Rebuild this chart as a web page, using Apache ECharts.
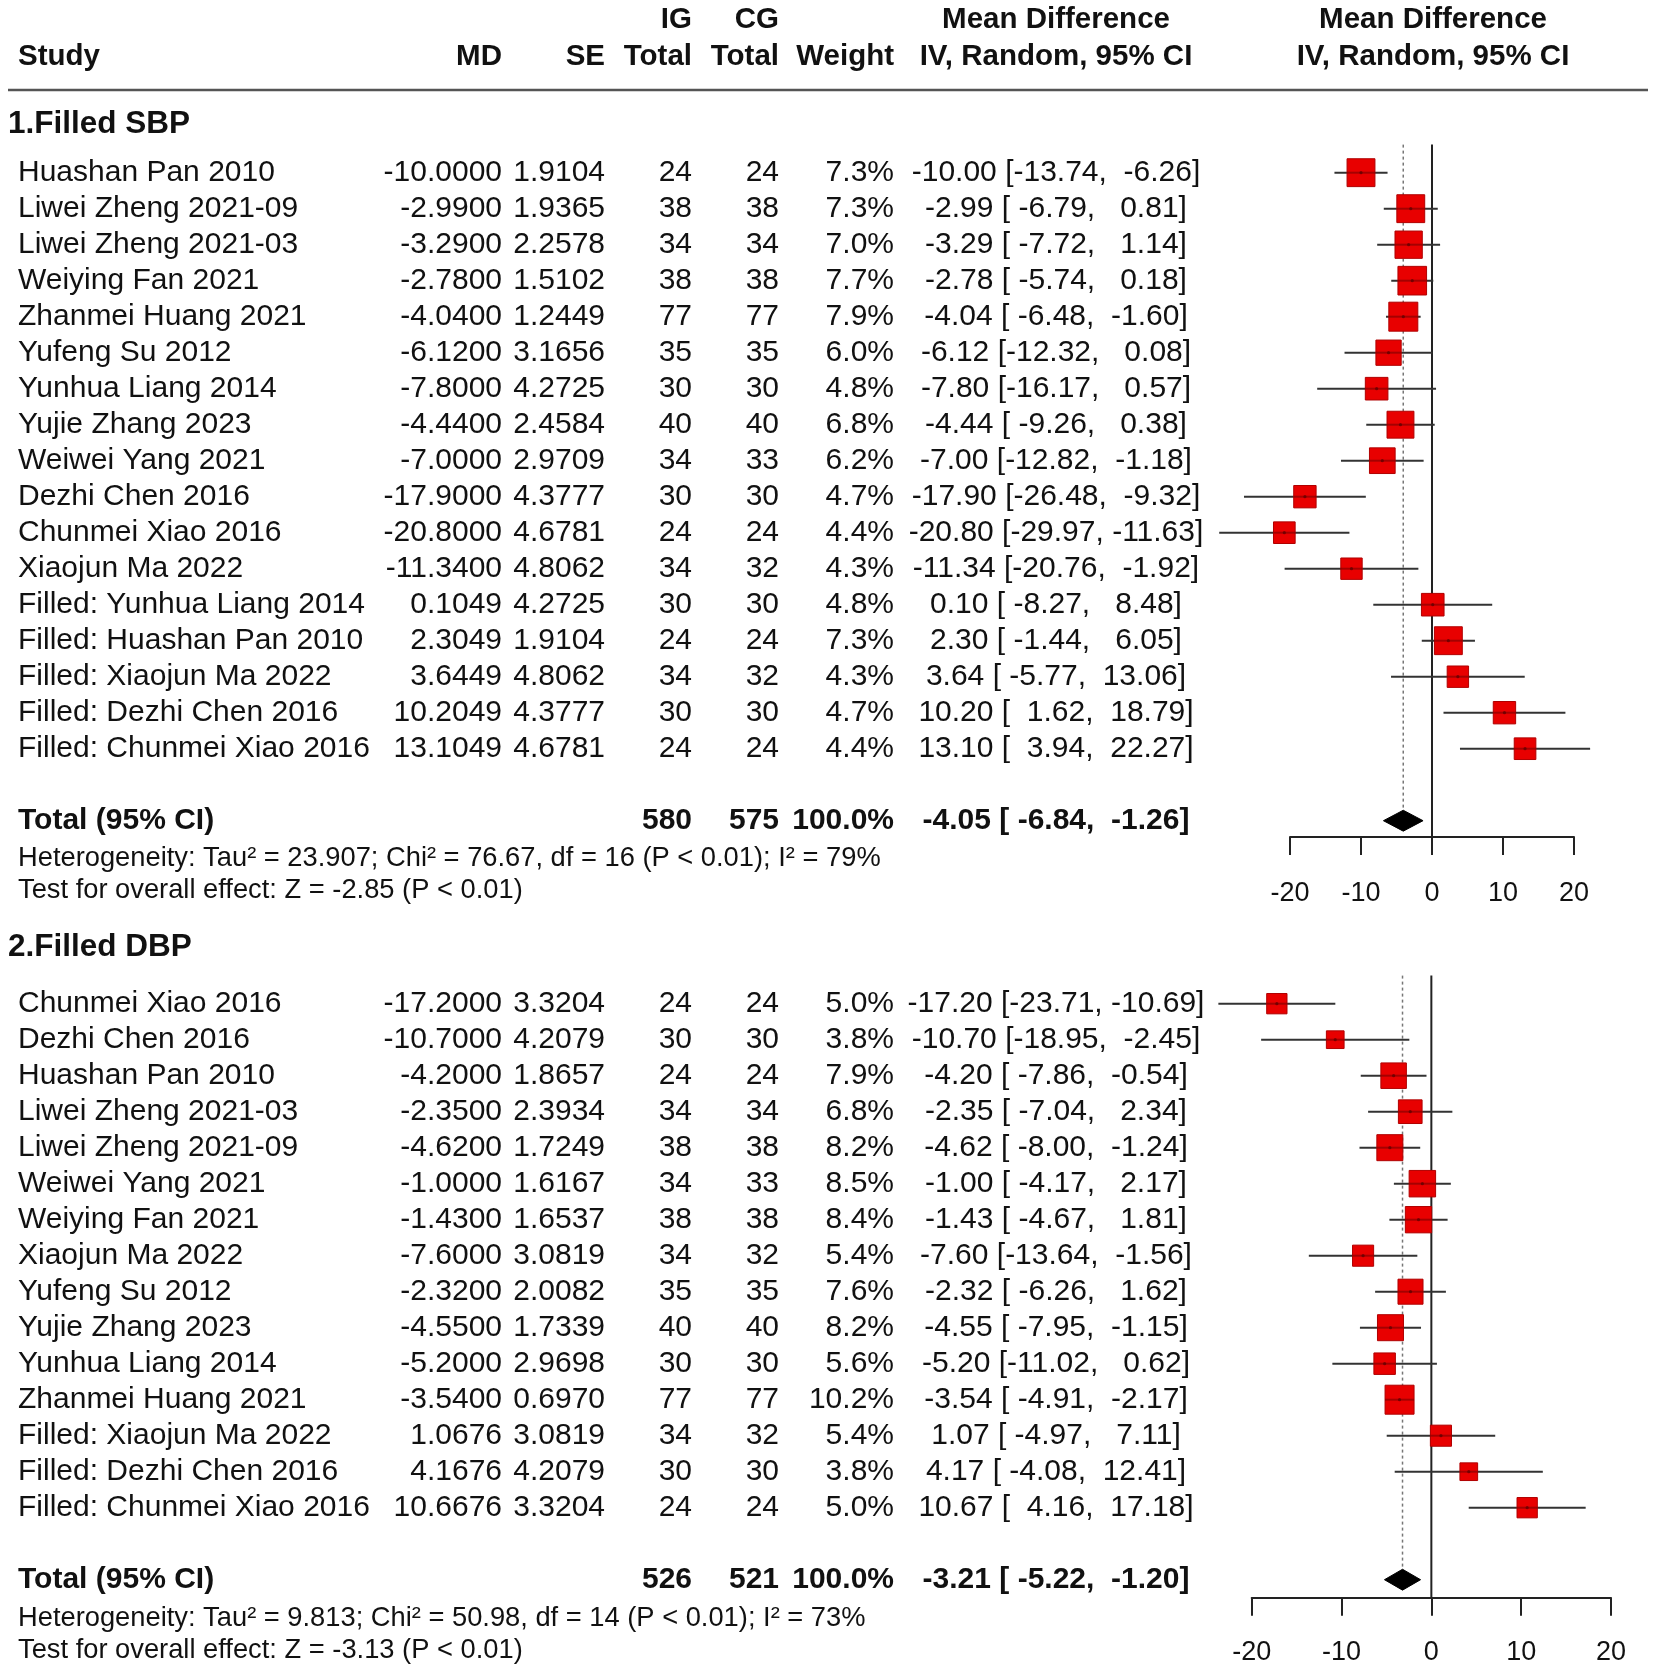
<!DOCTYPE html>
<html>
<head>
<meta charset="utf-8">
<script src="https://cdn.jsdelivr.net/npm/echarts@6/dist/echarts.min.js"></script>
<style>html,body{margin:0;padding:0;background:#fff}#c{width:1654px;height:1670px}</style>
</head>
<body>
<div id="c"></div>
<script>
// ---------------- DATA ----------------
const sbpStudy = ['Huashan Pan 2010','Liwei Zheng 2021-09','Liwei Zheng 2021-03','Weiying Fan 2021','Zhanmei Huang 2021','Yufeng Su 2012','Yunhua Liang 2014','Yujie Zhang 2023','Weiwei Yang 2021','Dezhi Chen 2016','Chunmei Xiao 2016','Xiaojun Ma 2022','Filled: Yunhua Liang 2014','Filled: Huashan Pan 2010','Filled: Xiaojun Ma 2022','Filled: Dezhi Chen 2016','Filled: Chunmei Xiao 2016'];
const sbpMD = [-10.0000,-2.9900,-3.2900,-2.7800,-4.0400,-6.1200,-7.8000,-4.4400,-7.0000,-17.9000,-20.8000,-11.3400,0.1049,2.3049,3.6449,10.2049,13.1049];
const sbpSE = [1.9104,1.9365,2.2578,1.5102,1.2449,3.1656,4.2725,2.4584,2.9709,4.3777,4.6781,4.8062,4.2725,1.9104,4.8062,4.3777,4.6781];
const sbpIG = [24,38,34,38,77,35,30,40,34,30,24,34,30,24,34,30,24];
const sbpCG = [24,38,34,38,77,35,30,40,33,30,24,32,30,24,32,30,24];
const sbpWeight = [7.3,7.3,7.0,7.7,7.9,6.0,4.8,6.8,6.2,4.7,4.4,4.3,4.8,7.3,4.3,4.7,4.4];
const sbpLower = [-13.74,-6.79,-7.72,-5.74,-6.48,-12.32,-16.17,-9.26,-12.82,-26.48,-29.97,-20.76,-8.27,-1.44,-5.77,1.62,3.94];
const sbpUpper = [-6.26,0.81,1.14,0.18,-1.60,0.08,0.57,0.38,-1.18,-9.32,-11.63,-1.92,8.48,6.05,13.06,18.79,22.27];
const sbpTotalN = [580, 575];
const sbpPooled = [-4.05, -6.84, -1.26];
const sbpHet = 'Heterogeneity: Tau\u00b2 = 23.907; Chi\u00b2 = 76.67, df = 16 (P < 0.01); I\u00b2 = 79%';
const sbpTest = 'Test for overall effect: Z = -2.85 (P < 0.01)';

const dbpStudy = ['Chunmei Xiao 2016','Dezhi Chen 2016','Huashan Pan 2010','Liwei Zheng 2021-03','Liwei Zheng 2021-09','Weiwei Yang 2021','Weiying Fan 2021','Xiaojun Ma 2022','Yufeng Su 2012','Yujie Zhang 2023','Yunhua Liang 2014','Zhanmei Huang 2021','Filled: Xiaojun Ma 2022','Filled: Dezhi Chen 2016','Filled: Chunmei Xiao 2016'];
const dbpMD = [-17.2000,-10.7000,-4.2000,-2.3500,-4.6200,-1.0000,-1.4300,-7.6000,-2.3200,-4.5500,-5.2000,-3.5400,1.0676,4.1676,10.6676];
const dbpSE = [3.3204,4.2079,1.8657,2.3934,1.7249,1.6167,1.6537,3.0819,2.0082,1.7339,2.9698,0.6970,3.0819,4.2079,3.3204];
const dbpIG = [24,30,24,34,38,34,38,34,35,40,30,77,34,30,24];
const dbpCG = [24,30,24,34,38,33,38,32,35,40,30,77,32,30,24];
const dbpWeight = [5.0,3.8,7.9,6.8,8.2,8.5,8.4,5.4,7.6,8.2,5.6,10.2,5.4,3.8,5.0];
const dbpLower = [-23.71,-18.95,-7.86,-7.04,-8.00,-4.17,-4.67,-13.64,-6.26,-7.95,-11.02,-4.91,-4.97,-4.08,4.16];
const dbpUpper = [-10.69,-2.45,-0.54,2.34,-1.24,2.17,1.81,-1.56,1.62,-1.15,0.62,-2.17,7.11,12.41,17.18];
const dbpTotalN = [526, 521];
const dbpPooled = [-3.21, -5.22, -1.20];
const dbpHet = 'Heterogeneity: Tau\u00b2 = 9.813; Chi\u00b2 = 50.98, df = 14 (P < 0.01); I\u00b2 = 73%';
const dbpTest = 'Test for overall effect: Z = -3.13 (P < 0.01)';

const xTickValues = [-20, -10, 0, 10, 20];
const panelTitles = ['1.Filled SBP', '2.Filled DBP'];
const headerTop = ['IG', 'CG', 'Mean Difference', 'Mean Difference'];
const headerBottom = ['Study', 'MD', 'SE', 'Total', 'Total', 'Weight', 'IV, Random, 95% CI', 'IV, Random, 95% CI'];

// ---------------- LAYOUT ----------------
const FONT = '"Liberation Sans", Arial, Helvetica, sans-serif';
const FS = 30, FS_SMALL = 27.3;
const COL = {name: 18, md: 502, se: 605, ig: 692, cg: 779, w: 894, ci: 1056, plot: 1433};
const TXT = '#111';

function txt(s, x, y, align, bold, size) {
  const font = (bold ? 'bold ' : '') + (size || FS) + 'px ' + FONT;
  return {type: 'text', silent: true,
    style: {text: s, x: x, y: y, fill: TXT, font: font,
      align: align, verticalAlign: 'middle', textAlign: align, textVerticalAlign: 'middle'}};
}
function pad(s, n) { while (s.length < n) s = ' ' + s; return s; }
function fmtCI(e, l, h) { return e.toFixed(2) + ' [' + pad(l.toFixed(2), 6) + ', ' + pad(h.toFixed(2), 6) + ']'; }

const panels = [
  {study: sbpStudy, md: sbpMD, se: sbpSE, ig: sbpIG, cg: sbpCG, weight: sbpWeight, lower: sbpLower, upper: sbpUpper,
   totalN: sbpTotalN, pooled: sbpPooled, het: sbpHet, test: sbpTest,
   grid: {left: 1290, width: 284, top: 144.6, height: 692.3}, axisGap: 0.45, labelMargin: 43, hetOff: [1.05, 1.93]},
  {study: dbpStudy, md: dbpMD, se: dbpSE, ig: dbpIG, cg: dbpCG, weight: dbpWeight, lower: dbpLower, upper: dbpUpper,
   totalN: dbpTotalN, pooled: dbpPooled, het: dbpHet, test: dbpTest,
   grid: {left: 1251.7, width: 359.3, top: 975.6, height: 622.1}, axisGap: 0.5, labelMargin: 41, hetOff: [1.08, 1.96]}
];
const Y_TOP = -0.78, BOX_MAX = 29, DIAMOND_HALF = 0.29;

const grids = [], xAxes = [], yAxes = [], series = [];
panels.forEach(function (p, gi) {
  const n = p.study.length, totalRow = n + 1, yMax = totalRow + p.axisGap;
  const maxW = Math.max.apply(null, p.weight);
  grids.push(Object.assign({containLabel: false}, p.grid));
  xAxes.push({gridIndex: gi, type: 'value', position: 'bottom',
    min: xTickValues[0], max: xTickValues[xTickValues.length - 1], interval: xTickValues[1] - xTickValues[0],
    axisLine: {show: true, onZero: false, lineStyle: {color: '#222', width: 2}},
    axisTick: {show: true, inside: false, length: 18, lineStyle: {color: '#222', width: 2}},
    axisLabel: {show: true, color: TXT, fontSize: 27, fontFamily: FONT, margin: p.labelMargin, showMinLabel: true, showMaxLabel: true},
    splitLine: {show: false}});
  yAxes.push({gridIndex: gi, type: 'value', inverse: true, min: Y_TOP, max: yMax, show: false});

  // reference lines + pooled diamond + total row
  series.push({type: 'custom', xAxisIndex: gi, yAxisIndex: gi, clip: false, silent: true, z: 1,
    data: [[p.pooled[0], totalRow, p.pooled[1], p.pooled[2]]],
    renderItem: function (params, api) {
      const e = api.value(0), r = api.value(1), l = api.value(2), h = api.value(3);
      const z0 = api.coord([0, Y_TOP]), z1 = api.coord([0, yMax]);
      const d0 = api.coord([e, Y_TOP]), d1 = api.coord([e, r - DIAMOND_HALF]);
      const pL = api.coord([l, r]), pT = api.coord([e, r - DIAMOND_HALF]), pR = api.coord([h, r]), pB = api.coord([e, r + DIAMOND_HALF]);
      const y = pL[1];
      return {type: 'group', children: [
        {type: 'line', shape: {x1: z0[0], y1: z0[1], x2: z1[0], y2: z1[1]}, style: {stroke: '#222', lineWidth: 2}},
        {type: 'line', shape: {x1: d0[0], y1: d0[1], x2: d1[0], y2: d1[1]}, style: {stroke: '#777', lineWidth: 1.5, lineDash: [3, 3]}},
        {type: 'polygon', shape: {points: [pL, pT, pR, pB]}, style: {fill: '#000', stroke: '#000', lineWidth: 1}},
        txt('Total (95% CI)', COL.name, y, 'left', true),
        txt(String(p.totalN[0]), COL.ig, y, 'right', true),
        txt(String(p.totalN[1]), COL.cg, y, 'right', true),
        txt('100.0%', COL.w, y, 'right', true),
        txt(fmtCI(e, l, h), COL.ci, y, 'center', true)
      ]};
    }});

  // study squares and CI lines
  series.push({type: 'custom', xAxisIndex: gi, yAxisIndex: gi, clip: false, silent: true, z: 3,
    data: p.md.map(function (m, i) { return [m, i, p.lower[i], p.upper[i], p.weight[i]]; }),
    renderItem: function (params, api) {
      const e = api.value(0), i = api.value(1), l = api.value(2), h = api.value(3), w = api.value(4);
      const c = api.coord([e, i]), pl = api.coord([l, i]), ph = api.coord([h, i]);
      const s = BOX_MAX * Math.sqrt(w / maxW);
      return {type: 'group', children: [
        {type: 'line', shape: {x1: pl[0], y1: c[1], x2: ph[0], y2: c[1]}, style: {stroke: '#333', lineWidth: 2}},
        {type: 'rect', shape: {x: c[0] - s / 2, y: c[1] - s / 2, width: s, height: s}, style: {fill: '#e80000', stroke: '#b00000', lineWidth: 1}},
        {type: 'line', shape: {x1: c[0] - s / 2, y1: c[1], x2: c[0] + s / 2, y2: c[1]}, style: {stroke: 'rgba(110,0,0,0.55)', lineWidth: 2}},
        {type: 'circle', shape: {cx: c[0], cy: c[1], r: 1.6}, style: {fill: 'rgba(90,0,0,0.7)'}}
      ]};
    }});

  // table text per study row
  series.push({type: 'custom', xAxisIndex: gi, yAxisIndex: gi, clip: false, silent: true, z: 4,
    data: p.study.map(function (s, i) { return [0, i]; }),
    renderItem: function (params, api) {
      const i = params.dataIndex;
      const y = api.coord([0, api.value(1)])[1];
      return {type: 'group', children: [
        txt(p.study[i], COL.name, y, 'left'),
        txt(p.md[i].toFixed(4), COL.md, y, 'right'),
        txt(p.se[i].toFixed(4), COL.se, y, 'right'),
        txt(String(p.ig[i]), COL.ig, y, 'right'),
        txt(String(p.cg[i]), COL.cg, y, 'right'),
        txt(p.weight[i].toFixed(1) + '%', COL.w, y, 'right'),
        txt(fmtCI(p.md[i], p.lower[i], p.upper[i]), COL.ci, y, 'center')
      ]};
    }});

  // heterogeneity / overall effect
  series.push({type: 'custom', xAxisIndex: gi, yAxisIndex: gi, clip: false, silent: true, z: 4,
    data: [[0, totalRow + p.hetOff[0]], [0, totalRow + p.hetOff[1]]],
    renderItem: function (params, api) {
      const y = api.coord([0, api.value(1)])[1];
      return txt(params.dataIndex === 0 ? p.het : p.test, COL.name, y, 'left', false, FS_SMALL);
    }});
});

function gtxt(s, x, y, align, size) {
  return {type: 'text', silent: true, x: 0, y: 0,
    style: {text: s, x: x, y: y, fill: TXT, font: 'bold ' + (size || FS) + 'px ' + FONT,
      align: align, verticalAlign: 'middle', textAlign: align, textVerticalAlign: 'middle'}};
}
const graphic = [
  gtxt(headerTop[0], COL.ig, 20, 'right', 29.5),
  gtxt(headerTop[1], COL.cg, 20, 'right', 29.5),
  gtxt(headerTop[2], COL.ci, 20, 'center', 29.5),
  gtxt(headerTop[3], COL.plot, 20, 'center', 29.5),
  gtxt(headerBottom[0], COL.name, 57, 'left', 29.5),
  gtxt(headerBottom[1], COL.md, 57, 'right', 29.5),
  gtxt(headerBottom[2], COL.se, 57, 'right', 29.5),
  gtxt(headerBottom[3], COL.ig, 57, 'right', 29.5),
  gtxt(headerBottom[4], COL.cg, 57, 'right', 29.5),
  gtxt(headerBottom[5], COL.w, 57, 'right', 29.5),
  gtxt(headerBottom[6], COL.ci, 57, 'center', 29.5),
  gtxt(headerBottom[7], COL.plot, 57, 'center', 29.5),
  {type: 'line', silent: true, shape: {x1: 8, y1: 90, x2: 1648, y2: 90}, style: {stroke: '#555', lineWidth: 2.5}},
  gtxt(panelTitles[0], 8, 124, 'left', 31.5),
  gtxt(panelTitles[1], 8, 947, 'left', 31.5)
];

const chart = echarts.init(document.getElementById('c'), null, {renderer: 'canvas'});
chart.setOption({
  backgroundColor: '#fff',
  animation: false,
  grid: grids,
  xAxis: xAxes,
  yAxis: yAxes,
  series: series,
  graphic: graphic
});
</script>
</body>
</html>
